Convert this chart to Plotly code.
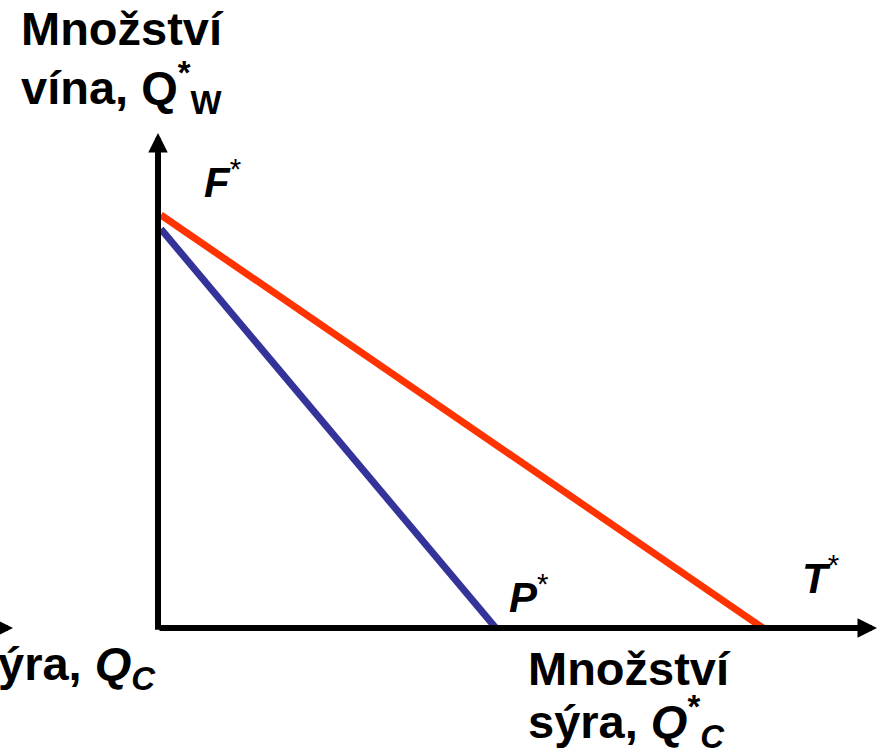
import plotly.graph_objects as go

# Data (arbitrary units: quantity of cheese on x, quantity of wine on y)
ppf_names = ["F*T* (red)", "F*P* (blue)"]
wine_intercepts = [100.0, 96.6]      # Q*_W when Q*_C = 0
cheese_intercepts = [146.5, 81.8]    # Q*_C when Q*_W = 0
line_colors = ["#FF3300", "#333399"]

W, H = 881, 755
ORIGIN_PX = (158, 628)
SCALE = 4.13  # px per unit

x_range = [-ORIGIN_PX[0] / SCALE, (W - ORIGIN_PX[0]) / SCALE]
y_range = [-(H - ORIGIN_PX[1]) / SCALE, ORIGIN_PX[1] / SCALE]

def px(x, y):
    return x / W, 1 - y / H

fig = go.Figure()

# Axes with arrows
x_axis_end = (877 - ORIGIN_PX[0]) / SCALE
y_axis_end = (ORIGIN_PX[1] - 133) / SCALE
ann = []
AH = dict(showarrow=True, arrowhead=2, arrowsize=0.65, arrowwidth=6, arrowcolor="black", text="",
          xref="x", yref="y", axref="x", ayref="y")
ann.append(dict(x=x_axis_end, y=0, ax=0, ay=0, **AH))
ann.append(dict(x=0, y=y_axis_end, ax=0, ay=-0.8, **AH))
# fragment of a neighbouring axis at the left edge
ann.append(dict(x=(13 - ORIGIN_PX[0]) / SCALE, y=0, ax=-60, ay=0, **AH))

for wi, ci, col, nm in zip(wine_intercepts, cheese_intercepts, line_colors, ppf_names):
    fig.add_trace(go.Scatter(x=[0.7, ci], y=[wi, 0], mode="lines", name=nm,
                             line=dict(color=col, width=7), hoverinfo="skip"))

FONT = "Liberation Sans, Arial, sans-serif"

def text(t, xp, yp, size, xanchor="left", yanchor="top", align="left"):
    x, y = px(xp, yp)
    ann.append(dict(text=t, x=x, y=y, xref="paper", yref="paper", showarrow=False,
                    xanchor=xanchor, yanchor=yanchor, align=align,
                    font=dict(family=FONT, size=size, color="black")))

text("<b>Množství</b>", 19, 0, 47)
text("<b>vína, Q<sup>*</sup><sub>W</sub></b>", 19, 52, 47)
text("<b><i>F</i></b><sup>*</sup>", 202, 150, 42)
text("<b><i>P</i></b><sup>*</sup>", 507, 565, 42)
text("<b><i>T</i></b><sup>*</sup>", 800, 546, 42)
text("<b>Množství</b>", 526, 640, 47)
text("<b>sýra, <i>Q</i><sup>*</sup><sub><i>C</i></sub></b>", 526, 686, 47)
text("<b>ýra, <i>Q</i><sub><i>C</i></sub></b>", 158, 635, 47, xanchor="right", align="right")

fig.update_layout(
    width=W, height=H, margin=dict(l=0, r=0, t=0, b=0),
    paper_bgcolor="white", plot_bgcolor="white", showlegend=False,
    xaxis=dict(range=x_range, visible=False, fixedrange=True),
    yaxis=dict(range=y_range, visible=False, fixedrange=True),
    annotations=ann,
)

fig.write_html("out.html", config={"displayModeBar": False},
               post_script="document.body.style.margin='0';document.body.style.overflow='hidden';")
